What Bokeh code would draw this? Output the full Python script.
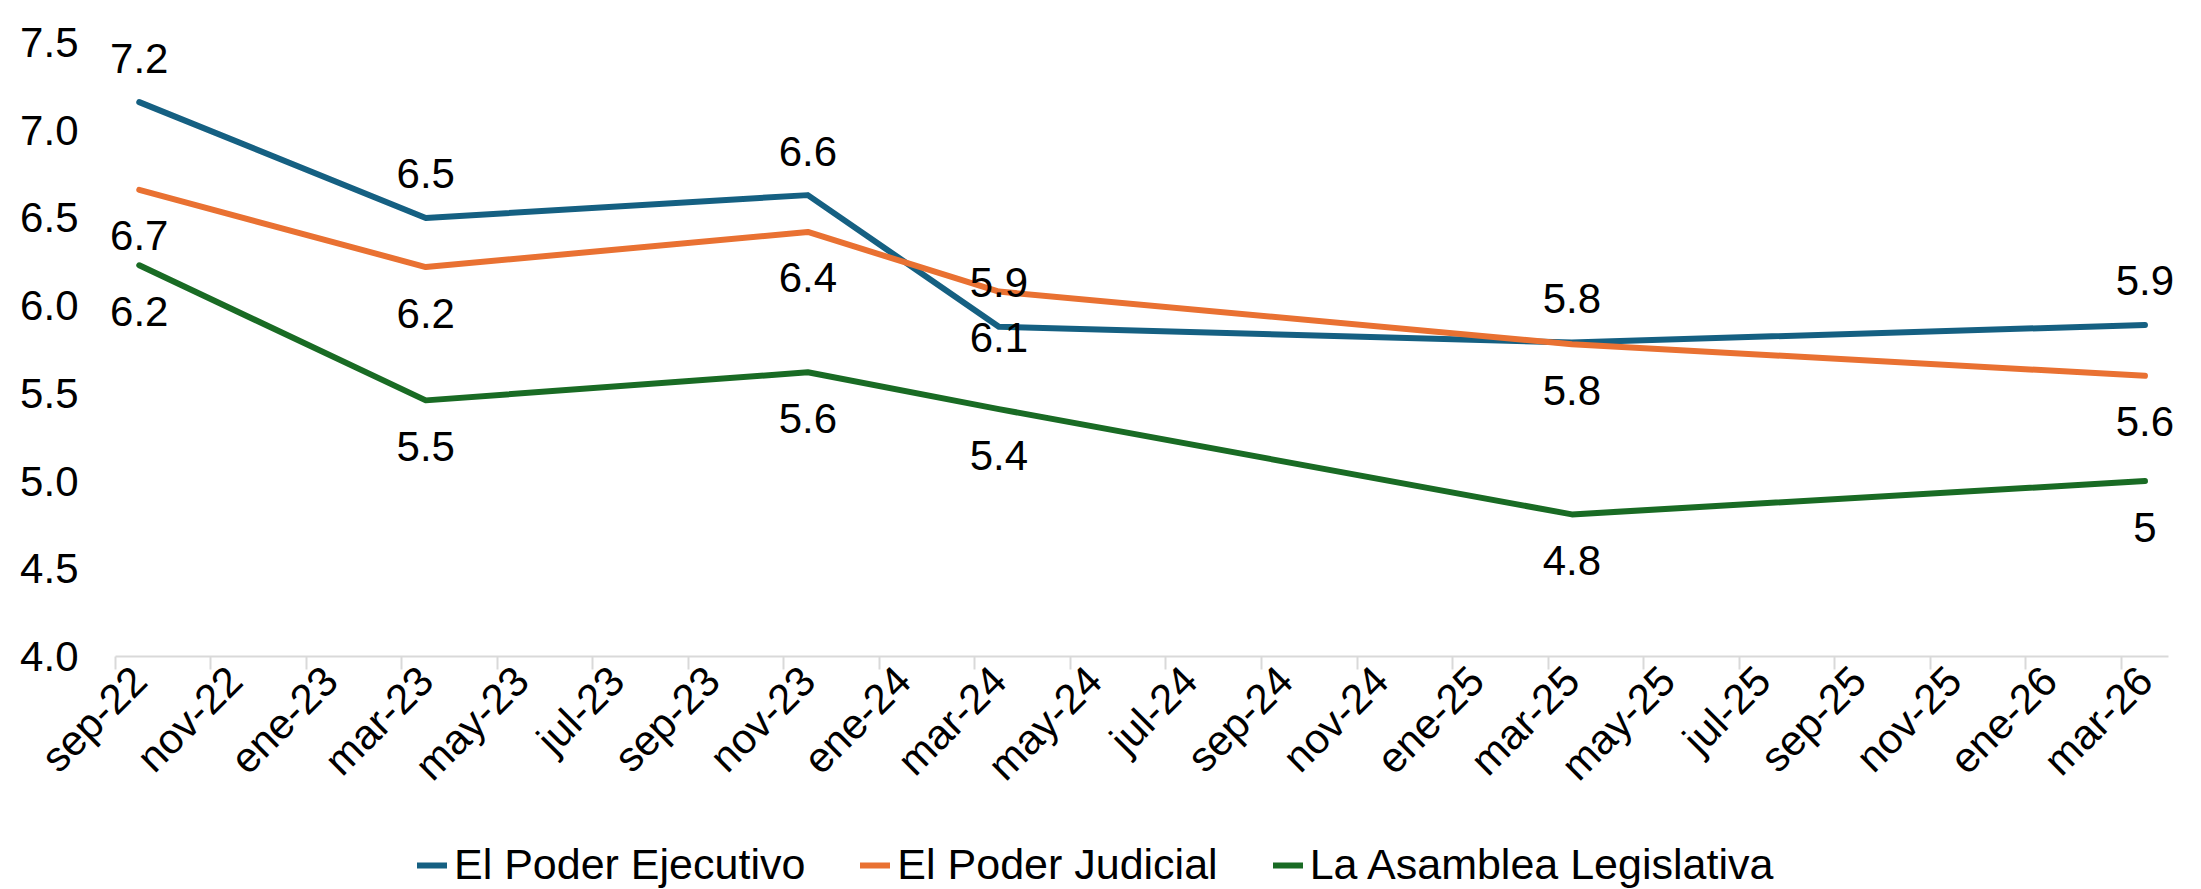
import math
from bokeh.plotting import figure
from bokeh.layouts import column
from bokeh.models import (ColumnDataSource, Range1d, FixedTicker, LinearAxis, LabelSet,
                          Legend, LegendItem, NumeralTickFormatter)
from bokeh.core.properties import value
from bokeh.embed import file_html
from bokeh.resources import INLINE

# ---------------- data ----------------
months = ["2022-09", "2023-03", "2023-11", "2024-03", "2025-03", "2026-03"]
ejecutivo = [7.16, 6.50, 6.63, 5.88, 5.79, 5.89]
judicial = [6.66, 6.22, 6.42, 6.08, 5.78, 5.60]
asamblea = [6.23, 5.46, 5.62, 5.41, 4.81, 5.00]
series_names = ["El Poder Ejecutivo", "El Poder Judicial", "La Asamblea Legislativa"]
tick_labels = ["sep-22", "nov-22", "ene-23", "mar-23", "may-23", "jul-23", "sep-23", "nov-23",
               "ene-24", "mar-24", "may-24", "jul-24", "sep-24", "nov-24", "ene-25", "mar-25",
               "may-25", "jul-25", "sep-25", "nov-25", "ene-26", "mar-26"]
y_ticks = [4.0, 4.5, 5.0, 5.5, 6.0, 6.5, 7.0, 7.5]

colors = ["#156082", "#E97132", "#196B24"]
FONT = "Liberation Sans"
FS = "42px"
W = 2201


def month_index(s):
    y, m = s.split("-")
    return (int(y) - 2022) * 12 + int(m) - 9


def fmt(v):
    s = f"{v:.1f}"
    return s[:-2] if s.endswith(".0") else s


xs = [month_index(m) for m in months]
n_months = month_index("2026-03") + 1

p = figure(width=W, height=826, output_backend="svg", toolbar_location=None,
           x_range=Range1d(-1.0, n_months + 0.1), y_range=Range1d(4.0, 7.5),
           min_border_left=91, min_border_right=4, min_border_top=42, min_border_bottom=170)
p.outline_line_color = None
p.xgrid.grid_line_color = None
p.ygrid.grid_line_color = None
p.background_fill_color = "white"
p.border_fill_color = "white"

# y axis
ya = p.yaxis[0]
ya.ticker = FixedTicker(ticks=y_ticks)
ya.formatter = NumeralTickFormatter(format="0.0")
ya.axis_line_color = None
ya.major_tick_line_color = None
ya.minor_tick_line_color = None
ya.major_label_standoff = 7
ya.major_label_text_font = FONT
ya.major_label_text_font_size = FS
ya.major_label_text_color = "#000000"

# x axis: tick marks at month-slot edges (every 2 months)
xa = p.xaxis[0]
edges = [-0.5 + 2 * k for k in range(len(tick_labels))]
xa.ticker = FixedTicker(ticks=edges)
xa.bounds = (-0.5, n_months - 0.5)
xa.axis_line_color = "#D9D9D9"
xa.axis_line_width = 2
xa.major_tick_line_color = "#D9D9D9"
xa.major_tick_line_width = 2
xa.major_tick_in = 0
xa.major_tick_out = 13
xa.minor_tick_line_color = None
xa.major_label_text_font_size = "1px"
xa.major_label_text_color = None
xa.major_label_standoff = 0

# x axis: labels at month-slot centres
centers = [2 * k for k in range(len(tick_labels))]
xb = LinearAxis(ticker=FixedTicker(ticks=centers),
                major_label_overrides={c: t for c, t in zip(centers, tick_labels)})
xb.axis_line_color = None
xb.major_tick_line_color = None
xb.minor_tick_line_color = None
xb.major_tick_in = 0
xb.major_tick_out = 0
xb.major_label_standoff = 4
xb.major_label_orientation = math.pi / 4
xb.major_label_text_font = FONT
xb.major_label_text_font_size = FS
xb.major_label_text_color = "#000000"
p.add_layout(xb, "below")

all_series = [ejecutivo, judicial, asamblea]
offsets = [44, -46, -46]
for name, vals, col, off in zip(series_names, all_series, colors, offsets):
    src = ColumnDataSource(dict(x=xs, y=vals, t=[fmt(v) for v in vals]))
    p.line("x", "y", source=src, line_color=col, line_width=6,
           line_cap="round", line_join="round")
    lbl = LabelSet(x="x", y="y", text="t", source=src, text_align="center",
                   text_baseline="middle", y_offset=off, text_font=value(FONT),
                   text_font_size=value(FS), text_color="#000000")
    p.add_layout(lbl)

# ---------------- legend strip ----------------
# same series drawn again, outside this strip's visible range, only to feed the legend
lg = figure(width=W, height=63, output_backend="svg", toolbar_location=None,
            x_range=Range1d(-1.0, n_months + 0.1), y_range=Range1d(100, 101),
            min_border_left=0, min_border_right=0, min_border_top=0, min_border_bottom=0)
lg.axis.visible = False
lg.xgrid.grid_line_color = None
lg.ygrid.grid_line_color = None
lg.outline_line_color = None
items = []
for name, vals, col in zip(series_names, all_series, colors):
    r = lg.line(x=xs, y=vals, line_color=col, line_width=6, line_cap="round")
    items.append(LegendItem(label=name, renderers=[r]))
legend = Legend(items=items, orientation="horizontal", location=(326, 0),
                label_text_font=FONT, label_text_font_size="43px", label_text_color="#000000",
                glyph_width=30, glyph_height=36, label_height=36, label_standoff=7,
                spacing=55, padding=0, margin=0, border_line_color=None,
                background_fill_alpha=0)
lg.add_layout(legend)

layout = column(p, lg, spacing=0)
open("out.html", "w").write(file_html(layout, INLINE))
